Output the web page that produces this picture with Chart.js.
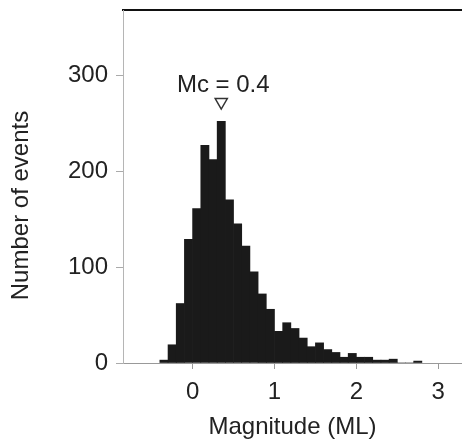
<!DOCTYPE html>
<html>
<head>
<meta charset="utf-8">
<script src="https://cdn.jsdelivr.net/npm/chart.js@4/dist/chart.umd.min.js"></script>
<style>
  html, body { margin: 0; padding: 0; background: #fff; overflow: hidden; }
  #wrap { width: 462px; height: 442px; position: relative; }
  #magChart { display: block; }
</style>
</head>
<body>
<div id="wrap"><canvas id="magChart" width="462" height="442"></canvas></div>
<script>
// Frequency-magnitude histogram, 0.1 ML bins (bin centres)
const magnitudeBins = [-0.35, -0.25, -0.15, -0.05, 0.05, 0.15, 0.25, 0.35, 0.45, 0.55,
  0.65, 0.75, 0.85, 0.95, 1.05, 1.15, 1.25, 1.35, 1.45, 1.55,
  1.65, 1.75, 1.85, 1.95, 2.05, 2.15, 2.25, 2.35, 2.45, 2.55, 2.65, 2.75];
const eventCounts = [3, 19, 62, 129, 161, 227, 212, 252, 170, 145,
  122, 95, 72, 56, 33, 42, 36, 26, 17, 21,
  14, 11, 6, 10, 6, 6, 3, 3, 4, 0, 0, 2];
const xTicks = [0, 1, 2, 3];
const yTicks = [0, 100, 200, 300];
const yTitle = 'Number of events';
const mcLabel = 'Mc = 0.4';
const mcMarker = { x: 0.35, y: 272 };

const FONT = "'Liberation Sans', Arial, sans-serif";
const INK = '#222';

// "Mc = 0.4" above the triangle, and the y title (sits a bit below centre in the original)
const labelsPlugin = {
  id: 'extraLabels',
  afterDatasetsDraw(chart) {
    const ctx = chart.ctx;
    const area = chart.chartArea;
    ctx.save();
    ctx.font = '24px ' + FONT;
    ctx.fillStyle = INK;
    ctx.textAlign = 'center';
    ctx.textBaseline = 'middle';
    const pt = chart.getDatasetMeta(1).data[0];
    if (pt) ctx.fillText(mcLabel, pt.x + 2, pt.y - 17);
    ctx.translate(21, (area.top + area.bottom) / 2 + 19);
    ctx.rotate(-Math.PI / 2);
    ctx.fillText(yTitle, 0, 0);
    ctx.restore();
  }
};

function noPad(s) {
  s.paddingTop = 0; s.paddingBottom = 0; s.paddingLeft = 0; s.paddingRight = 0;
}

new Chart(document.getElementById('magChart'), {
  type: 'bar',
  data: {
    datasets: [{
      type: 'bar',
      data: magnitudeBins.map((m, i) => ({ x: m, y: eventCounts[i] })),
      backgroundColor: '#1a1a1a',
      borderWidth: 0,
      barPercentage: 1,
      categoryPercentage: 1
    }, {
      type: 'scatter',
      data: [mcMarker],
      pointStyle: 'triangle',
      rotation: 180,
      radius: 7,
      backgroundColor: '#fff',
      borderColor: '#333',
      borderWidth: 1.5
    }]
  },
  options: {
    responsive: false,
    animation: false,
    layout: { padding: 0, autoPadding: false },
    plugins: { legend: { display: false }, tooltip: { enabled: false } },
    scales: {
      x: {
        type: 'linear',
        min: -0.85,
        max: 3.29,
        offset: false,
        afterBuildTicks: s => { s.ticks = xTicks.map(v => ({ value: v })); },
        afterFit: s => { s.height = 79; noPad(s); },
        grid: { display: true, offset: false, drawOnChartArea: false, tickLength: 6, color: '#999' },
        border: { color: '#999', width: 1 },
        ticks: { color: INK, font: { family: FONT, size: 24 }, padding: 9, maxRotation: 0 },
        title: { display: true, text: 'Magnitude (ML)', color: INK, font: { family: FONT, size: 24 }, padding: { top: 0, bottom: 0 } }
      },
      xTop: {
        type: 'linear',
        position: 'top',
        min: -0.85,
        max: 3.29,
        offset: false,
        afterFit: s => { s.height = 10; noPad(s); },
        grid: { display: false, offset: false },
        ticks: { display: false },
        border: { display: true, color: '#111', width: 2 }
      },
      y: {
        min: 0,
        max: 368,
        afterBuildTicks: s => { s.ticks = yTicks.map(v => ({ value: v })); },
        afterFit: s => { s.width = 123; noPad(s); },
        grid: { display: true, drawOnChartArea: false, tickLength: 7, color: '#aaa' },
        border: { color: '#b5b5b5', width: 1 },
        ticks: { color: INK, font: { family: FONT, size: 24 }, padding: 8 }
      }
    }
  },
  plugins: [labelsPlugin]
});
</script>
</body>
</html>
